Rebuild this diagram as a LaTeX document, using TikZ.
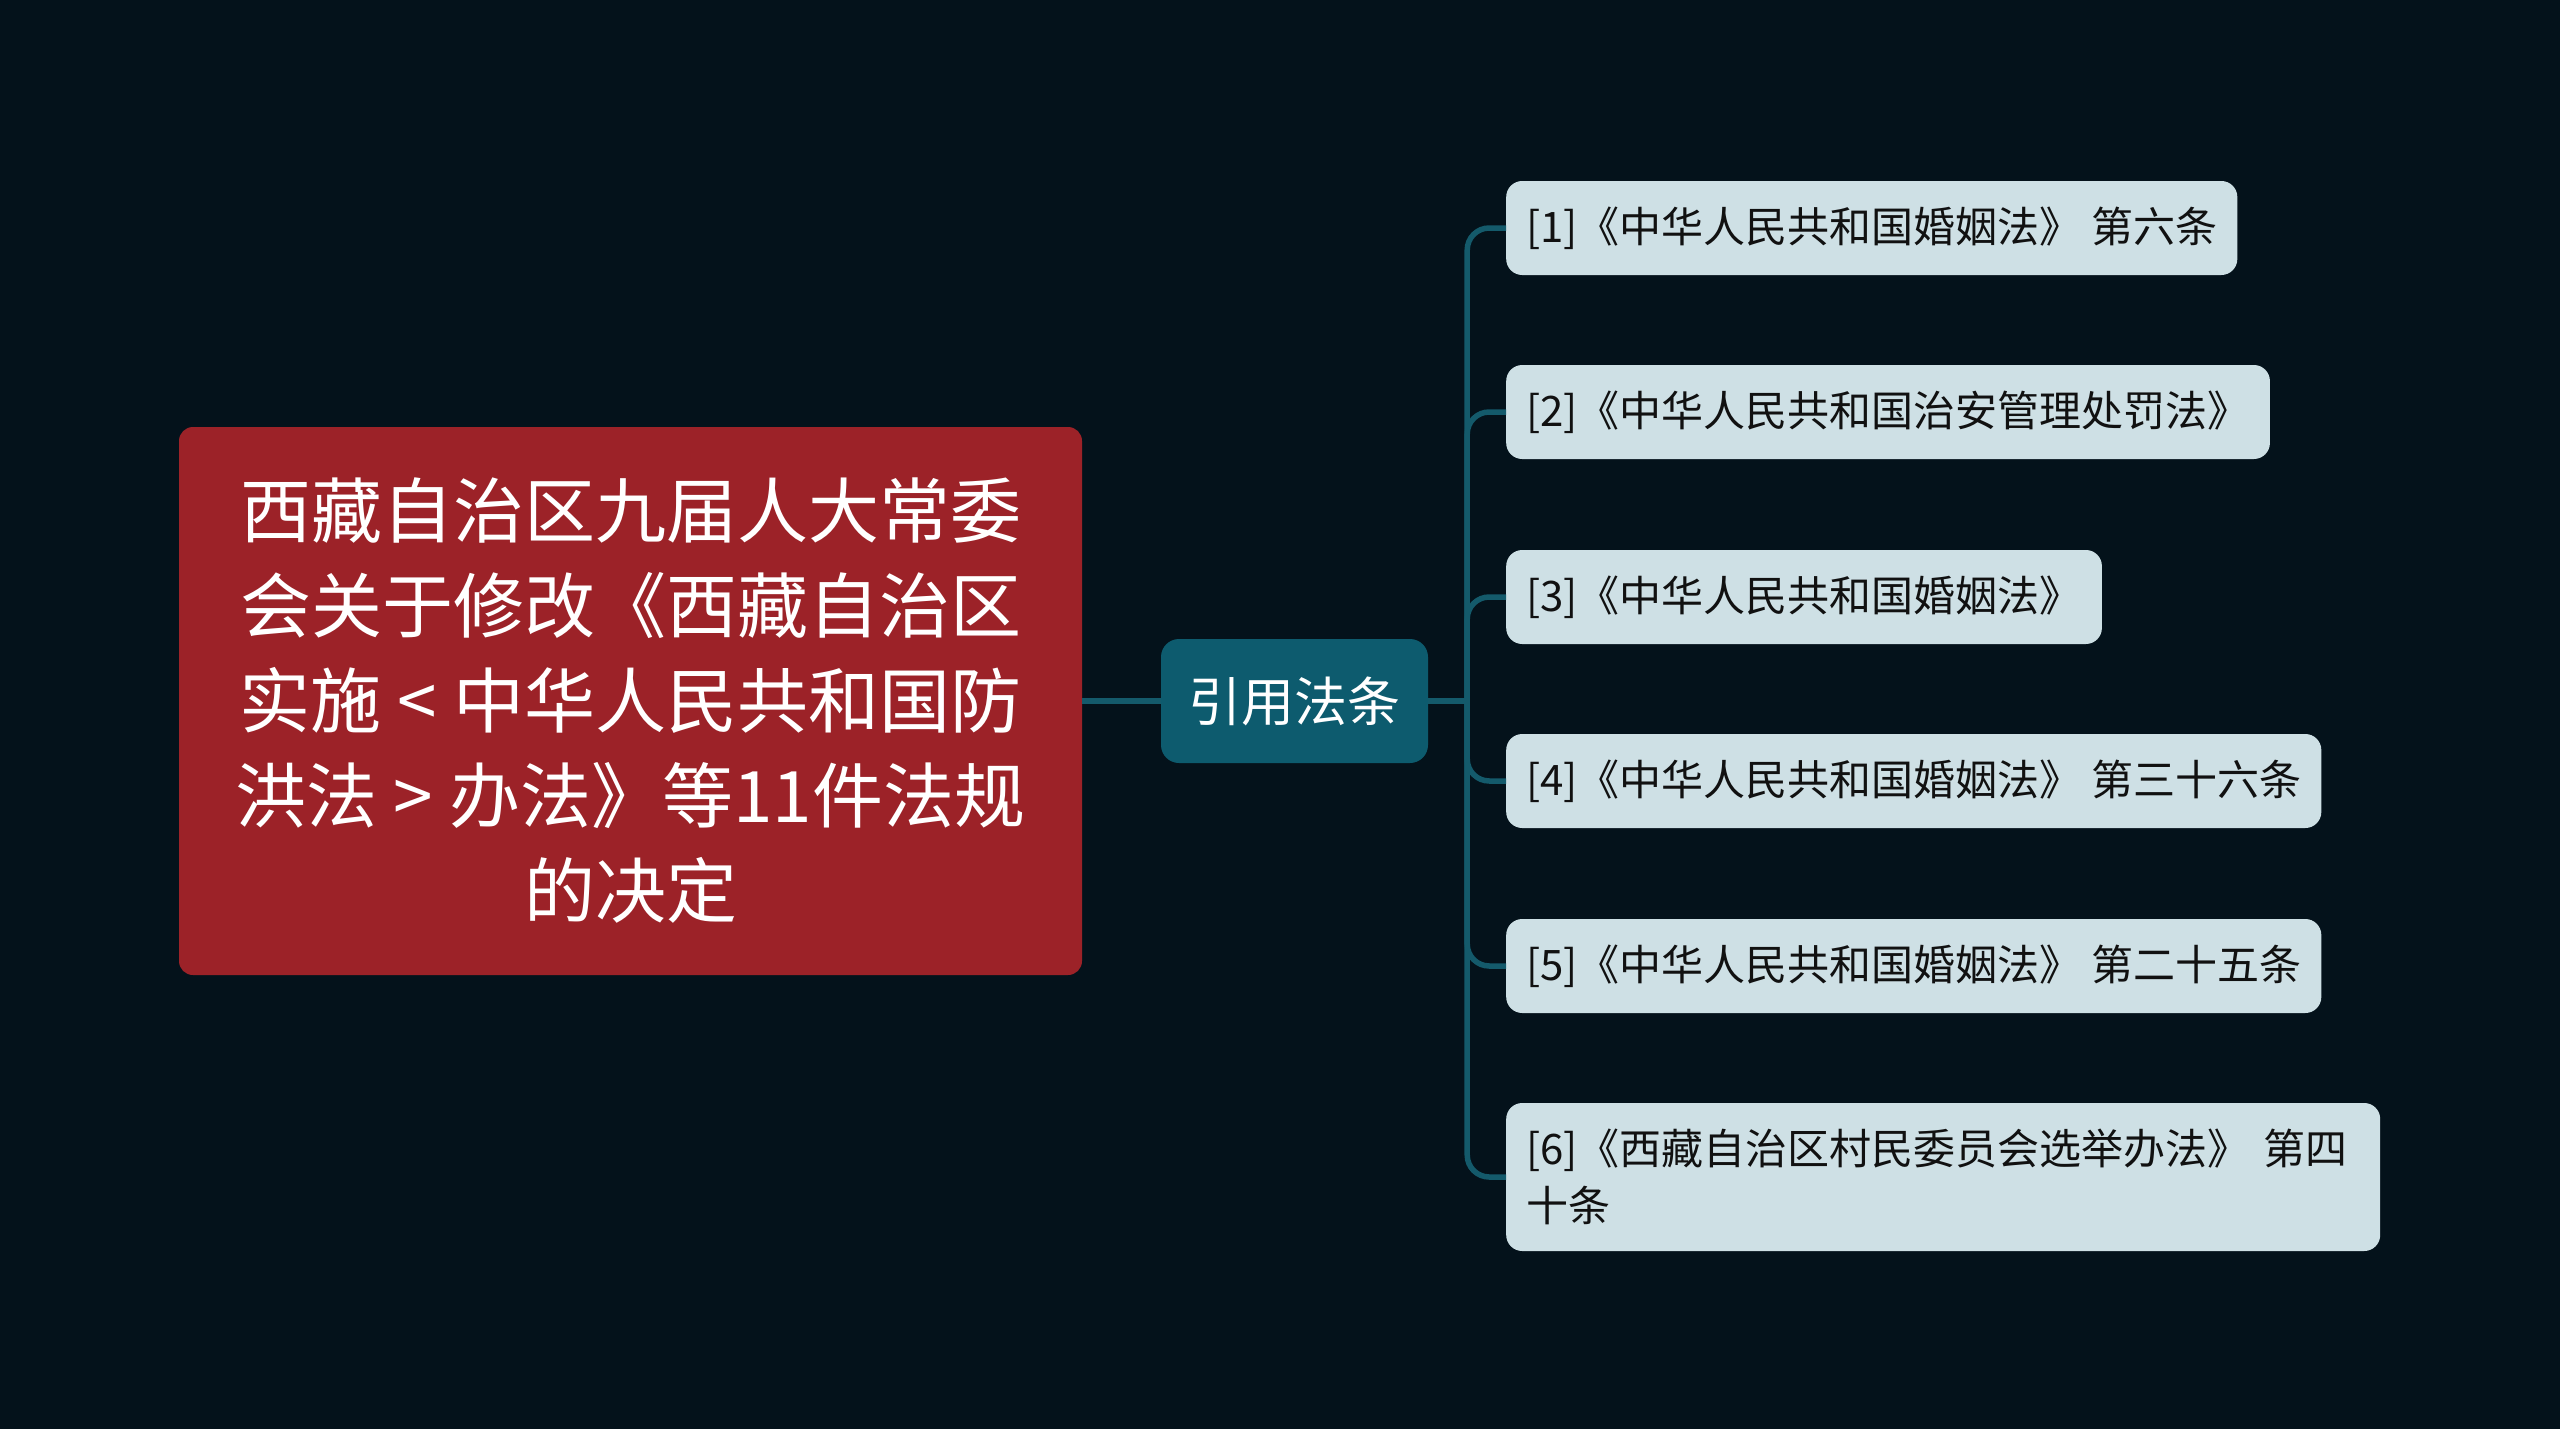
\documentclass[tikz,border=0pt]{standalone}
\usepackage{fontspec}
\setmainfont{Noto Sans CJK SC}
\definecolor{bgc}{HTML}{04121B}
\definecolor{rootc}{HTML}{9C2228}
\definecolor{midc}{HTML}{0D5B6E}
\definecolor{linec}{HTML}{145A6B}
\definecolor{leafc}{HTML}{CEE0E5}
\definecolor{leaftext}{HTML}{111111}
\tikzset{
  rootbox/.style={fill=rootc, rounded corners=14pt, inner sep=0pt, minimum width=903pt, minimum height=548pt, align=center, text=white, font=\fontsize{71}{95}\selectfont},
  midbox/.style={fill=midc, rounded corners=18pt, inner sep=0pt, minimum width=267pt, minimum height=124pt, text=white, font=\fontsize{53}{60}\selectfont},
  leafbox/.style={fill=leafc, rounded corners=16pt, anchor=west, inner xsep=20pt, inner ysep=0pt, minimum height=94pt, text=leaftext, align=left, font=\fontsize{42}{57}\selectfont},
  conn/.style={draw=linec, line width=5.5pt},
  branch/.style={conn, rounded corners=22pt}
}
\begin{document}
\begin{tikzpicture}[x=1pt,y=-1pt]
\useasboundingbox (0,0) rectangle (2560,1429);
\fill[bgc] (0,0) rectangle (2560,1429);

\node[rootbox] (root) at (630.5,701) {西藏自治区九届人大常委\\会关于修改《西藏自治区\\实施 < 中华人民共和国防\\洪法 > 办法》等11件法规\\的决定};
\node[midbox] (mid) at (1294.5,701) {引用法条};

\node[leafbox] (l1) at (1506,228) {[1]《中华人民共和国婚姻法》 第六条};
\node[leafbox] (l2) at (1506,412) {[2]《中华人民共和国治安管理处罚法》};
\node[leafbox] (l3) at (1506,597) {[3]《中华人民共和国婚姻法》};
\node[leafbox] (l4) at (1506,781) {[4]《中华人民共和国婚姻法》 第三十六条};
\node[leafbox] (l5) at (1506,966) {[5]《中华人民共和国婚姻法》 第二十五条};
\node[leafbox, minimum height=148pt, text width=834pt] (l6) at (1506,1177) {[6]《西藏自治区村民委员会选举办法》 第四\\十条};

\draw[conn] (root.east) -- (mid.west);
\path (mid.east) ++(39,0) coordinate (j);
\draw[conn] (mid.east) -- (j);
\foreach \n in {l1,l2,l3,l4,l5,l6}{
  \draw[branch] (j) |- (\n.west);
}
\end{tikzpicture}
\end{document}
